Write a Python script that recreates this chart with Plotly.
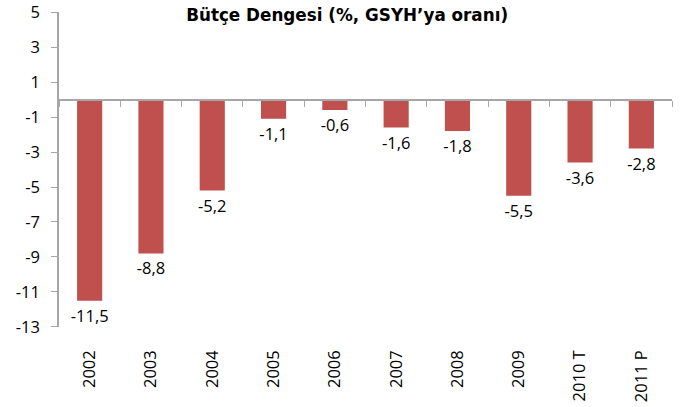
import plotly.graph_objects as go

categories = ["2002", "2003", "2004", "2005", "2006", "2007", "2008", "2009", "2010 T", "2011 P"]
values = [-11.5, -8.8, -5.2, -1.1, -0.6, -1.6, -1.8, -5.5, -3.6, -2.8]
y_ticks = [5, 3, 1, -1, -3, -5, -7, -9, -11, -13]
y_min, y_max = -13, 5
title_text = "<b>Bütçe Dengesi (%, GSYH’ya oranı)</b>"

labels = [f"{v:.1f}".replace(".", ",") for v in values]
tick_text = [str(t) for t in y_ticks]

axis_gray = "#A6A6A6"
font_main = "Open Sans"

FIG_W, FIG_H = 681, 407

fig = go.Figure()
fig.add_trace(go.Bar(
    x=categories, y=values,
    marker=dict(color="#C0504D", line=dict(width=0)),
    text=labels, textposition="outside",
    textfont=dict(family=font_main, size=16.5, color="#000000"),
    constraintext="none",
    cliponaxis=False,
    width=0.41,
    hoverinfo="skip",
))
# invisible helper trace to carry the zero-line axis with boundary ticks
fig.add_trace(go.Scatter(
    x=categories, y=values, xaxis="x2", mode="markers",
    marker=dict(opacity=0), hoverinfo="skip", showlegend=False,
))

fig.update_layout(
    width=FIG_W, height=FIG_H,
    margin=dict(l=59, r=9, t=12, b=80),
    plot_bgcolor="white", paper_bgcolor="white",
    showlegend=False,
    title=dict(
        text=title_text,
        font=dict(family="DejaVu Sans", size=16.8, color="#000000"),
        x=0.47, xref="paper", xanchor="center",
        y=1 - 15 / FIG_H, yref="container", yanchor="middle",
    ),
    xaxis=dict(
        type="category", automargin=False,
        showline=False, showgrid=False, zeroline=False,
        ticks="", tickangle=-90,
        tickfont=dict(family=font_main, size=16.5, color="#000000"),
        ticklabelstandoff=19,
        range=[-0.5, len(categories) - 0.5],
    ),
    xaxis2=dict(
        type="category", automargin=False,
        overlaying="x", anchor="free",
        position=(0 - y_min) / (y_max - y_min),
        showline=True, linecolor=axis_gray, linewidth=2,
        ticks="outside", tickson="boundaries", ticklen=6, tickcolor=axis_gray, tickwidth=1,
        showticklabels=False, showgrid=False, zeroline=False,
        range=[-0.5, len(categories) - 0.5],
    ),
    yaxis=dict(
        range=[y_min - 0.001, y_max + 0.001], automargin=False,
        tickvals=y_ticks, ticktext=tick_text,
        showline=True, linecolor=axis_gray, linewidth=1.5,
        ticks="outside", ticklen=6, tickcolor=axis_gray,
        showgrid=False, zeroline=False,
        tickfont=dict(family=font_main, size=16.5, color="#000000"),
        ticklabelstandoff=8,
        ticklabeloverflow="allow",
    ),
)

fig.write_html(
    "out.html",
    config={"displayModeBar": False},
    post_script="document.body.style.margin='0';",
)
